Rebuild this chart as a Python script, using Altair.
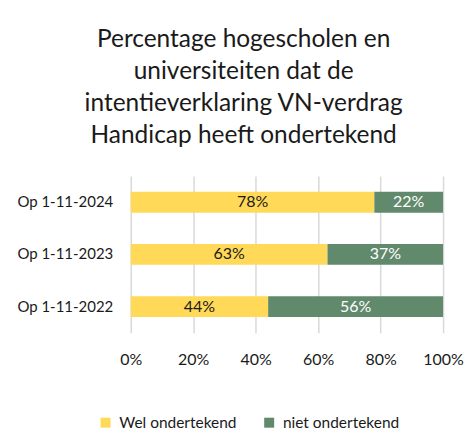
import altair as alt
import pandas as pd

categories = ["Op 1-11-2024", "Op 1-11-2023", "Op 1-11-2022"]
series = ["Wel ondertekend", "niet ondertekend"]
wel = [78, 63, 44]
niet = [22, 37, 56]
colors = ["#FFD957", "#618A6C"]
label_colors = ["#1a1a1a", "#ffffff"]

rows = []
for i, c in enumerate(categories):
    for j, (s, vals) in enumerate(zip(series, [wel, niet])):
        rows.append({"cat": c, "series": s, "order": j, "value": vals[i] / 100,
                     "label": f"{vals[i]}%", "lcolor": label_colors[j]})
df = pd.DataFrame(rows)

FONT = "Lato"

base = alt.Chart(df).transform_stack(
    stack="value", groupby=["cat"], as_=["x0", "x1"], sort=[alt.SortField("order")]
).transform_calculate(mid="(datum.x0 + datum.x1) / 2")

y_enc = alt.Y("cat:N", sort=categories, title=None,
              scale=alt.Scale(paddingInner=0.6, paddingOuter=0.3),
              axis=alt.Axis(ticks=False, domain=False, labelFontSize=15, labelFont=FONT,
                            labelColor="#1a1a1a", labelPadding=18, minExtent=123, maxExtent=123,
                            grid=False))

bars = base.mark_bar().encode(
    x=alt.X("x0:Q", scale=alt.Scale(domain=[0, 1]), title=None,
            axis=alt.Axis(format=".0%", values=[0, 0.2, 0.4, 0.6, 0.8, 1.0], ticks=False,
                          domain=False, labelFontSize=16, labelFont=FONT, labelColor="#1a1a1a",
                          labelPadding=19, labelFlush=False, gridColor="#d9d9d9", gridWidth=1.5)),
    x2="x1:Q",
    y=y_enc,
    color=alt.Color("series:N", sort=series,
                    scale=alt.Scale(domain=series, range=colors),
                    legend=alt.Legend(title=None, orient="none", direction="horizontal",
                                      legendX=-33, legendY=239, symbolType="square",
                                      symbolSize=100, symbolStrokeWidth=0,
                                      labelFontSize=15.5, labelFont=FONT, labelColor="#1a1a1a",
                                      labelOffset=6, columnPadding=24)),
)

texts = base.mark_text(fontSize=16, font=FONT).encode(
    x=alt.X("mid:Q"),
    y=alt.Y("cat:N", sort=categories),
    text="label:N",
    color=alt.Color("lcolor:N", scale=None),
)

chart = alt.layer(bars, texts).properties(
    width=313, height=157,
    padding={"left": 0, "top": 18, "right": 0, "bottom": 5},
    title=alt.Title(["Percentage hogescholen en", "universiteiten dat de",
                     "intentieverklaring VN-verdrag", "Handicap heeft ondertekend"],
                    fontSize=24.5, font=FONT, fontWeight="normal", color="#1a1a1a",
                    lineHeight=32, anchor="middle", frame="bounds", offset=28, dx=8),
    background="#ffffff",
).configure_view(stroke=None)

chart.save("out.html", embed_options={"renderer": "svg", "actions": False})
